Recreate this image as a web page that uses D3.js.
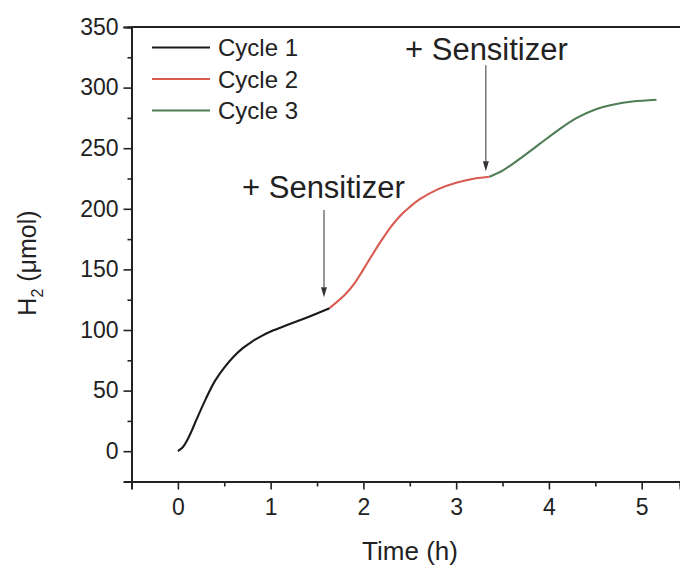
<!DOCTYPE html>
<html><head><meta charset="utf-8">
<script src="https://cdn.jsdelivr.net/npm/d3@7"></script>
<style>
html,body{margin:0;padding:0;background:#fff;}
svg{display:block;font-family:"Liberation Sans",Arial,sans-serif;}
</style></head>
<body>
<svg id="chart" width="680" height="570"></svg>
<script>
// ---- data ----
const seriesNames = ["Cycle 1", "Cycle 2", "Cycle 3"];
const seriesColors = ["#1a1a1a", "#d95a50", "#4f7d56"];
const cycle1T = [0, 0.05, 0.1, 0.15, 0.2, 0.3, 0.4, 0.5, 0.6, 0.7, 0.8, 0.9, 1.0, 1.2, 1.4, 1.635];
const cycle1V = [0, 3, 9, 17, 26, 43, 58, 69, 78, 85, 90.5, 95, 98.8, 104.8, 110.6, 118];
const cycle2T = [1.635, 1.8, 1.9, 2.0, 2.1, 2.2, 2.3, 2.4, 2.5, 2.6, 2.8, 3.0, 3.2, 3.36];
const cycle2V = [118, 129, 138, 150, 162.5, 174.5, 185.5, 194.5, 201.5, 207.5, 216, 221.5, 225, 226.5];
const cycle3T = [3.36, 3.5, 3.7, 3.9, 4.1, 4.3, 4.5, 4.7, 4.9, 5.16];
const cycle3V = [226.5, 231.5, 242, 253.5, 265, 275, 282, 286, 288.5, 290];
const xTicks = [0, 1, 2, 3, 4, 5];
const yTicks = [0, 50, 100, 150, 200, 250, 300, 350];
const annotLabel = "+ Sensitizer";
const arrowT = [1.575, 3.32];
const arrowFromV = [199, 318.5];
const arrowToV = [127, 231];
const xTitle = "Time (h)";

// ---- layout ----
const svg = d3.select("#chart");
const L = 131.5, R = 680, T = 27, B = 481.5;
const x = d3.scaleLinear().domain([-0.5, 5.413]).range([L, R]);
const y = d3.scaleLinear().domain([-25, 350]).range([B, T]);

// axes
const gx = svg.append("g").attr("transform", `translate(0,${B})`)
  .call(d3.axisBottom(x).tickValues(xTicks).tickSize(8).tickPadding(9).tickFormat(d3.format("d")));
const gxm = svg.append("g").attr("transform", `translate(0,${B})`)
  .call(d3.axisBottom(x).tickValues(d3.range(-0.5, 5.41, 1)).tickSize(5).tickFormat(""));
const gy = svg.append("g").attr("transform", `translate(${L},0)`)
  .call(d3.axisLeft(y).tickValues(yTicks).tickSize(8).tickPadding(5));
const gym = svg.append("g").attr("transform", `translate(${L},0)`)
  .call(d3.axisLeft(y).tickValues(d3.range(-25, 350, 50)).tickSize(4).tickFormat(""));
[gx, gxm, gy, gym].forEach(g => {
  g.select(".domain").attr("stroke", "#222").attr("stroke-width", 2);
  g.selectAll(".tick line").attr("stroke", "#222").attr("stroke-width", 1.6);
  g.selectAll("text").attr("fill", "#222").style("font-size", "23px");
});
// top frame line
svg.append("line").attr("x1", L).attr("x2", R).attr("y1", y(350)).attr("y2", y(350))
  .attr("stroke", "#222").attr("stroke-width", 2);

// curves
const line = d3.line().x(d => x(d[0])).y(d => y(d[1])).curve(d3.curveCatmullRom.alpha(0.5));
const series = [
  d3.zip(cycle1T, cycle1V),
  d3.zip(cycle2T, cycle2V),
  d3.zip(cycle3T, cycle3V)
];
series.forEach((s, i) => {
  svg.append("path").attr("d", line(s)).attr("fill", "none")
    .attr("stroke", seriesColors[i]).attr("stroke-width", 2.1);
});

// legend
seriesNames.forEach((n, i) => {
  const yy = 47.5 + i * 31.5;
  svg.append("line").attr("x1", 152).attr("x2", 210).attr("y1", yy).attr("y2", yy)
    .attr("stroke", seriesColors[i]).attr("stroke-width", 2.2);
  svg.append("text").attr("x", 218).attr("y", yy + 8.5).text(n)
    .attr("fill", "#222").style("font-size", "24px");
});

// annotations
arrowT.forEach((t, i) => {
  svg.append("line").attr("x1", x(t)).attr("x2", x(t))
    .attr("y1", y(arrowFromV[i])).attr("y2", y(arrowToV[i]) - 10)
    .attr("stroke", "#444").attr("stroke-width", 1.1);
  svg.append("path")
    .attr("d", `M${x(t) - 3},${y(arrowToV[i]) - 10} L${x(t) + 3},${y(arrowToV[i]) - 10} L${x(t)},${y(arrowToV[i])} Z`)
    .attr("fill", "#333");
});
svg.append("text").attr("x", 242).attr("y", 198).text(annotLabel)
  .attr("fill", "#222").style("font-size", "31px");
svg.append("text").attr("x", 405).attr("y", 60).text(annotLabel)
  .attr("fill", "#222").style("font-size", "31px");

// axis titles
svg.append("text").attr("x", 410).attr("y", 560).attr("text-anchor", "middle")
  .text(xTitle).attr("fill", "#222").style("font-size", "26px");
const yt = svg.append("text").attr("transform", "translate(36,263) rotate(-90)")
  .attr("text-anchor", "middle").attr("fill", "#222").style("font-size", "25px");
yt.append("tspan").text("H");
yt.append("tspan").text("2").attr("dy", 7).style("font-size", "16px");
yt.append("tspan").text(" (μmol)").attr("dy", -7);
</script>
</body></html>
